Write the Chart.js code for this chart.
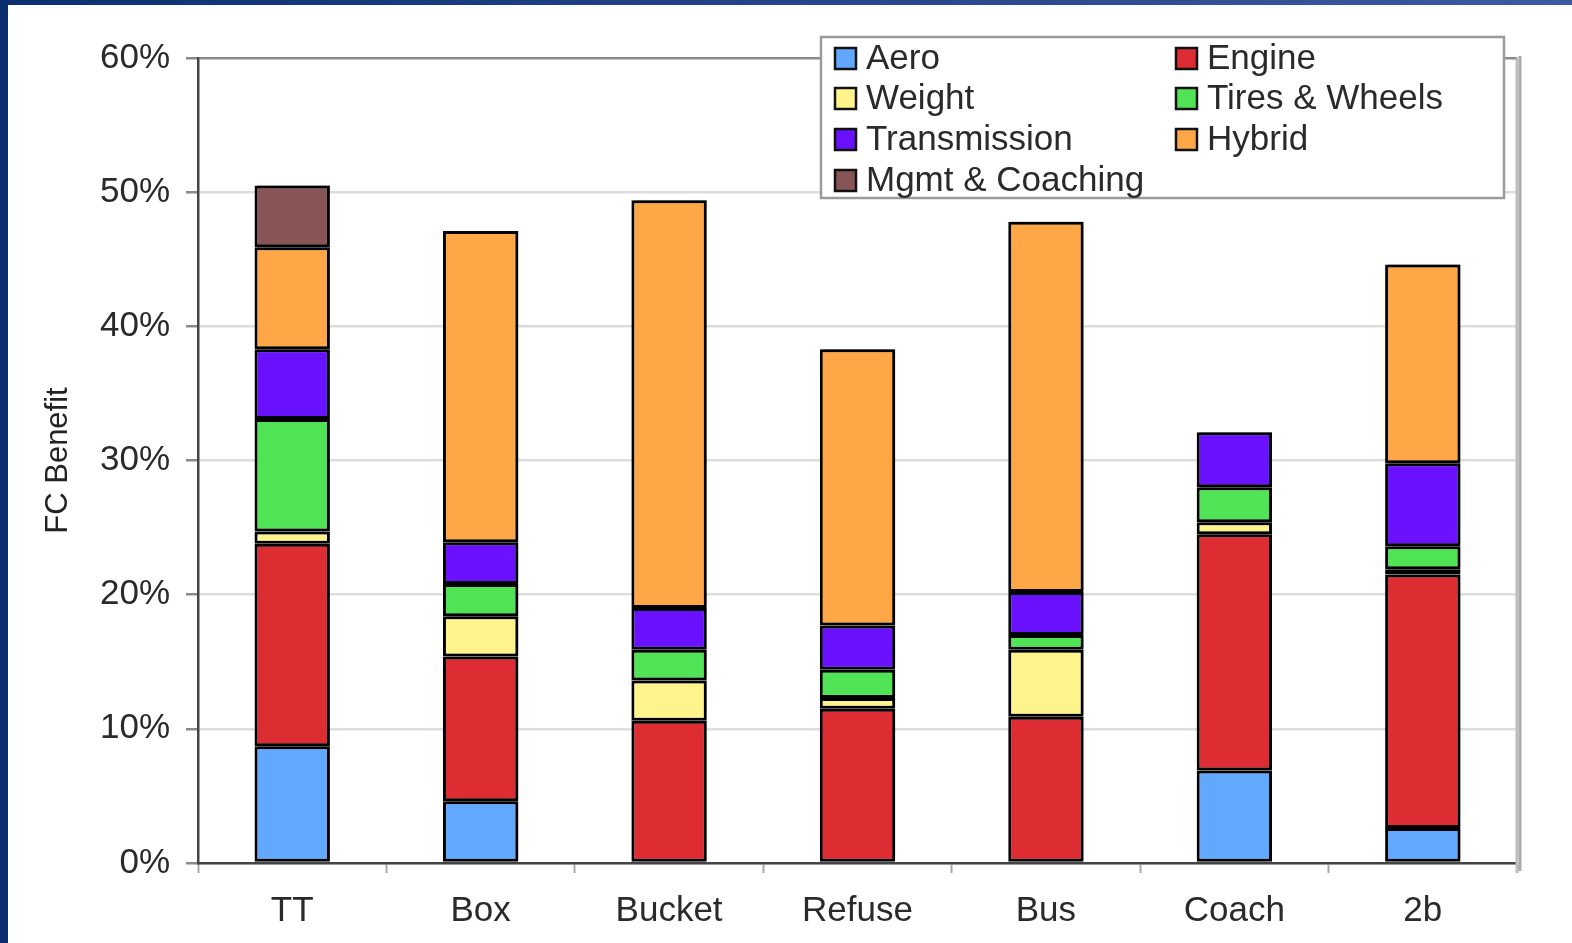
<!DOCTYPE html>
<html>
<head>
<meta charset="utf-8">
<title>FC Benefit by Vehicle Class</title>
<script src="https://cdn.jsdelivr.net/npm/chart.js@4/dist/chart.umd.min.js"></script>
<style>
    html, body { margin: 0; padding: 0; background: #ffffff; overflow: hidden; }
    .frame-top { position: absolute; left: 0; top: 0; width: 1572px; height: 5px; background: linear-gradient(to right, #0c2f70, #3a5c9e); z-index: 2; }
    .frame-left { position: absolute; left: 0; top: 0; width: 8px; height: 943px; background: #0b2e6e; z-index: 2; }
    .wrap { position: absolute; left: 0; top: 0; width: 1572px; height: 943px; }
</style>
</head>
<body>
<div class="frame-top"></div>
<div class="frame-left"></div>
<div class="wrap"><canvas id="barChart"></canvas></div>
<script>
// Fuel consumption benefit by technology, per vehicle class (%)
const categories = ['TT', 'Box', 'Bucket', 'Refuse', 'Bus', 'Coach', '2b'];
const aero = [8.7, 4.6, 0, 0, 0, 6.9, 2.6];
const engine = [15.1, 10.8, 10.6, 11.5, 10.9, 17.6, 18.9];
const weight = [0.9, 3.0, 3.0, 0.8, 5.0, 0.9, 0.4];
const tiresWheels = [8.4, 2.4, 2.3, 2.1, 1.1, 2.6, 1.7];
const transmission = [5.2, 3.1, 3.1, 3.3, 3.2, 4.1, 6.2];
const hybrid = [7.6, 23.2, 30.4, 20.6, 27.6, 0, 14.8];
const mgmtCoaching = [4.6, 0, 0, 0, 0, 0, 0];
const yTicks = [0, 10, 20, 30, 40, 50, 60];

const FONT = 'Liberation Sans, Arial, sans-serif';

function segment(label, data, color) {
    return {
        label: label,
        data: data,
        backgroundColor: color,
        borderColor: '#000000',
        borderWidth: 3,
        borderSkipped: false,
        inflateAmount: 0,
        barPercentage: 0.4,
        categoryPercentage: 1.0
    };
}

// grey drop shadow to the right of / above the bars
const barShadow = {
    id: 'barShadow',
    beforeDatasetsDraw(chart) {
        const ctx = chart.ctx;
        ctx.save();
        ctx.shadowColor = 'rgba(0, 0, 0, 0.33)';
        ctx.shadowOffsetX = 3;
        ctx.shadowOffsetY = -2;
        ctx.shadowBlur = 0;
    },
    afterDatasetsDraw(chart) {
        chart.ctx.restore();
    }
};

// right edge of the plot frame
const plotFrame = {
    id: 'plotFrame',
    beforeDatasetsDraw(chart) {
        const { ctx, chartArea } = chart;
        ctx.save();
        ctx.strokeStyle = '#bdbdbd';
        ctx.lineWidth = 3;
        ctx.beginPath();
        ctx.moveTo(chartArea.right, chartArea.top);
        ctx.lineTo(chartArea.right, chartArea.bottom + 10);
        ctx.stroke();
        ctx.restore();
    }
};

// two-column boxed legend drawn over the plot
const boxLegend = {
    id: 'boxLegend',
    afterDraw(chart) {
        const { ctx, chartArea } = chart;
        const left = chartArea.left + 623;
        const top = chartArea.top - 21;
        const w = 683, h = 161;
        const colX = [14, 355];
        const rowY = [21, 61, 102, 143];
        ctx.save();
        ctx.fillStyle = '#ffffff';
        ctx.fillRect(left, top, w, h);
        ctx.strokeStyle = '#9a9a9a';
        ctx.lineWidth = 2.5;
        ctx.strokeRect(left, top, w, h);
        ctx.font = '35px ' + FONT;
        ctx.textBaseline = 'middle';
        chart.data.datasets.forEach((ds, i) => {
            const x = left + colX[i % 2];
            const y = top + rowY[Math.floor(i / 2)];
            ctx.fillStyle = ds.backgroundColor;
            ctx.fillRect(x, y - 10, 21, 21);
            ctx.strokeStyle = '#111111';
            ctx.lineWidth = 2.5;
            ctx.strokeRect(x, y - 10, 21, 21);
            ctx.fillStyle = '#2a2a2a';
            ctx.fillText(ds.label, x + 31, y + 1);
        });
        ctx.restore();
    }
};

const barCtx = document.getElementById('barChart').getContext('2d');
new Chart(barCtx, {
    type: 'bar',
    data: {
        labels: categories,
        datasets: [
            segment('Aero', aero, '#62a8ff'),
            segment('Engine', engine, '#dd2d33'),
            segment('Weight', weight, '#fff38b'),
            segment('Tires & Wheels', tiresWheels, '#50e356'),
            segment('Transmission', transmission, '#6a12ff'),
            segment('Hybrid', hybrid, '#ffa647'),
            segment('Mgmt & Coaching', mgmtCoaching, '#885557')
        ]
    },
    options: {
        responsive: true,
        maintainAspectRatio: false,
        animation: false,
        layout: {
            padding: { top: 58, right: 55, left: 8, bottom: 0 }
        },
        plugins: {
            legend: { display: false },
            tooltip: { enabled: false }
        },
        scales: {
            x: {
                stacked: true,
                afterFit: (scale) => { scale.height = 80; },
                border: { color: '#444444', width: 2.5 },
                grid: {
                    offset: true,
                    drawOnChartArea: false,
                    tickLength: 10,
                    tickColor: '#a8a8a8',
                    tickWidth: 2
                },
                ticks: {
                    color: '#2a2a2a',
                    padding: 17,
                    font: { size: 35, family: FONT }
                }
            },
            y: {
                stacked: true,
                min: 0,
                max: 60,
                afterFit: (scale) => { scale.width = 190; },
                afterBuildTicks: (scale) => {
                    scale.ticks = yTicks.map(v => ({ value: v }));
                },
                border: { color: '#444444', width: 2.5 },
                grid: {
                    color: (ctx) => ctx.tick && ctx.tick.value === 60 ? '#8a8a8a' : '#dddddd',
                    lineWidth: 2.5,
                    tickLength: 12,
                    tickColor: '#8a8a8a',
                    tickWidth: 2.5
                },
                ticks: {
                    color: '#2a2a2a',
                    padding: 16,
                    font: { size: 35, family: FONT },
                    callback: (v) => v + '%'
                },
                title: {
                    display: true,
                    text: 'FC Benefit',
                    color: '#222222',
                    font: { size: 31, family: FONT },
                    padding: { top: 32, bottom: 0 }
                }
            }
        }
    },
    plugins: [barShadow, plotFrame, boxLegend]
});
</script>
</body>
</html>
